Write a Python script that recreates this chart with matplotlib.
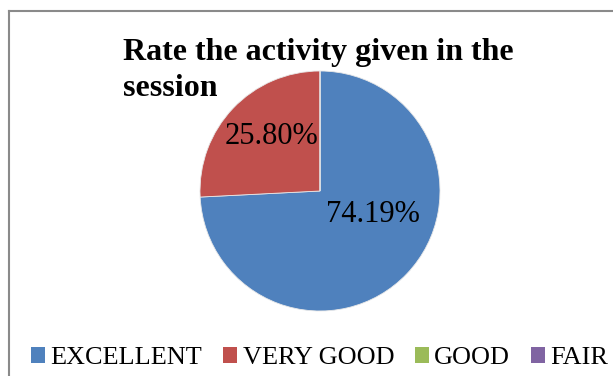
import matplotlib.pyplot as plt
from matplotlib.lines import Line2D
from matplotlib.patches import Patch

categories = ["EXCELLENT", "VERY GOOD", "GOOD", "FAIR"]
shares = [74.19, 25.80, 0.0, 0.0]
pct_labels = ["74.19%", "25.80%", "", ""]
colors = ["#4F81BD", "#C0504D", "#9BBB59", "#8064A2"]
# where Excel put the data labels, in pie-radius units
label_pos = [(0.44, -0.2), (-0.40, 0.45)]

fig = plt.figure(figsize=(6.13, 3.76), dpi=100)

# chart area border (only left and top show in the crop)
fig.add_artist(Line2D([9/613, 9/613], [0, 1 - 11/376], transform=fig.transFigure,
                      color="#8a8a8a", lw=1.5))
fig.add_artist(Line2D([9/613, 1], [1 - 11/376, 1 - 11/376], transform=fig.transFigure,
                      color="#8a8a8a", lw=1.5))

ax = fig.add_axes([200/613, 1 - 311/376, 240/613, 240/376])
wedges, _ = ax.pie(shares, colors=colors, startangle=90, counterclock=False,
                   radius=1, wedgeprops=dict(edgecolor="#e8e8e8", linewidth=0.6))
ax.set_xlim(-1, 1)
ax.set_ylim(-1, 1)
ax.set_aspect("equal")
ax.axis("off")

for txt, (x, y) in zip(pct_labels, label_pos):
    ax.text(x, y, txt, ha="center", va="center", fontsize=22,
            family="Liberation Serif", color="black")

fig.text(123/613, 1 - 60/376, "Rate the activity given in the", fontsize=23,
         family="Liberation Serif", weight="bold", va="baseline", ha="left")
fig.text(123/613, 1 - 96/376, "session", fontsize=23,
         family="Liberation Serif", weight="bold", va="baseline", ha="left")

handles = [Patch(facecolor=c, edgecolor="none") for c in colors]
fig.legend(handles, categories, loc="center left", bbox_to_anchor=(31/613, 1 - 358/376),
           ncol=4, frameon=False, prop=dict(family="Liberation Serif", size=18.9),
           handlelength=0.55, handleheight=0.55, handletextpad=0.2,
           columnspacing=0.78, borderaxespad=0, borderpad=0)

fig.savefig("out.png", dpi=100)
